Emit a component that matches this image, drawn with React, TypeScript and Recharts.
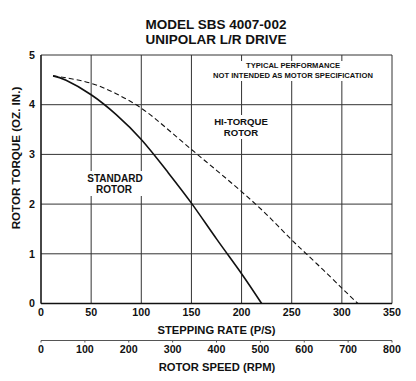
import { CartesianGrid, Customized, Line, LineChart, XAxis, YAxis } from 'recharts';

const rateTicks = [0, 50, 100, 150, 200, 250, 300, 350];
const rpmTicks = [0, 100, 200, 300, 400, 500, 600, 700, 800];
const torqueTicks = [0, 1, 2, 3, 4, 5];

// standard rotor (solid)
const standardRate = [12, 25, 50, 75, 100, 125, 150, 175, 200, 220];
const standardTorque = [4.58, 4.49, 4.2, 3.8, 3.3, 2.68, 2.02, 1.3, 0.6, 0];

// hi-torque rotor (dashed)
const hiTorqueRate = [12, 25, 50, 75, 100, 125, 150, 175, 200, 225, 250, 275, 300, 316];
const hiTorqueTorque = [4.58, 4.54, 4.43, 4.22, 3.93, 3.53, 3.1, 2.68, 2.25, 1.79, 1.28, 0.8, 0.31, 0];

const standard = standardRate.map((rate, i) => ({ rate, torque: standardTorque[i] }));
const hiTorque = hiTorqueRate.map((rate, i) => ({ rate, torque: hiTorqueTorque[i] }));
const rpmScale = rpmTicks.map((rpm) => ({ rpm }));

const FONT = '"Liberation Sans", Arial, sans-serif';
const INK = '#111';

const tickStyle = { fontFamily: FONT, fontSize: 10.7, fontWeight: 700, fill: INK };

function Notes() {
  const t = { fontFamily: FONT, fontWeight: 700, fill: INK, textAnchor: 'middle' as const };
  return (
    <g>
      <text x={216} y={29} fontSize={13.5} {...t}>MODEL SBS 4007-002</text>
      <text x={216} y={44} fontSize={13.5} {...t}>UNIPOLAR L/R DRIVE</text>

      <rect x={203} y={61} width={182} height={20} fill="#fff" />
      <text x={293} y={68} fontSize={7.6} {...t}>TYPICAL PERFORMANCE</text>
      <text x={293} y={77.5} fontSize={7.6} {...t}>NOT INTENDED AS MOTOR SPECIFICATION</text>

      <rect x={211} y={115} width={60} height={24} fill="#fff" />
      <text x={241} y={125} fontSize={9.6} {...t}>HI-TORQUE</text>
      <text x={241} y={136} fontSize={9.6} {...t}>ROTOR</text>

      <rect x={84} y={171} width={62} height={25} fill="#fff" />
      <text x={115} y={181.5} fontSize={10} {...t}>STANDARD</text>
      <text x={114} y={193} fontSize={10} {...t}>ROTOR</text>

      <text
        x={0}
        y={0}
        fontSize={11.6}
        {...t}
        transform="translate(19.5 158) rotate(-90)"
      >
        ROTOR TORQUE (OZ. IN.)
      </text>
      <text x={216.5} y={334} fontSize={11.2} {...t}>STEPPING RATE (P/S)</text>
      <text x={217} y={371} fontSize={11.2} {...t}>ROTOR SPEED (RPM)</text>
    </g>
  );
}

export default function App() {
  return (
    <div style={{ position: 'absolute', left: 0, top: 0, width: 416, height: 381, background: '#fff' }}>
      <LineChart
        width={416}
        height={381}
        margin={{ top: 55, right: 24, left: 0, bottom: 7.5 }}
      >
        <CartesianGrid stroke="#333" strokeWidth={1} />
        <XAxis
          dataKey="rate"
          type="number"
          domain={[0, 350]}
          ticks={rateTicks}
          height={37}
          tickSize={0}
          tickMargin={5}
          tick={tickStyle}
          axisLine={{ stroke: INK, strokeWidth: 1.4 }}
          allowDataOverflow
        />
        <XAxis
          xAxisId="rpm"
          dataKey="rpm"
          type="number"
          domain={[0, 800]}
          ticks={rpmTicks}
          height={33}
          tickSize={2}
          tickMargin={3}
          tick={tickStyle}
          axisLine={{ stroke: '#555', strokeWidth: 1 }}
          tickLine={{ stroke: '#555' }}
          allowDataOverflow
        />
        <YAxis
          type="number"
          domain={[0, 5]}
          ticks={torqueTicks}
          width={41}
          tickSize={0}
          tickMargin={6}
          tick={tickStyle}
          axisLine={{ stroke: INK, strokeWidth: 1.2 }}
        />
        <Customized component={Notes} />
        <Line
          xAxisId="rpm"
          data={rpmScale}
          dataKey="torque"
          stroke="none"
          dot={false}
          legendType="none"
          isAnimationActive={false}
        />
        <Line
          data={hiTorque}
          dataKey="torque"
          type="natural"
          stroke={INK}
          strokeWidth={1.1}
          strokeDasharray="5 3"
          dot={false}
          isAnimationActive={false}
        />
        <Line
          data={standard}
          dataKey="torque"
          type="natural"
          stroke={INK}
          strokeWidth={1.6}
          dot={false}
          isAnimationActive={false}
        />
      </LineChart>
    </div>
  );
}
